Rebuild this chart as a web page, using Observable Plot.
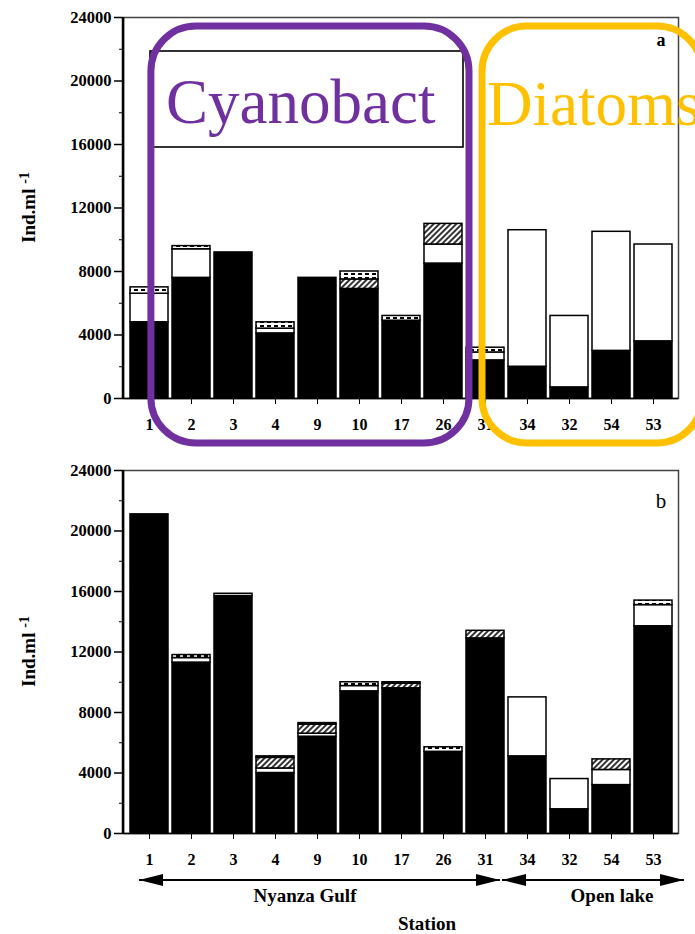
<!DOCTYPE html>
<html>
<head>
<meta charset="utf-8">
<script src="https://cdn.jsdelivr.net/npm/d3@7"></script>
<script src="https://cdn.jsdelivr.net/npm/@observablehq/plot@0.6"></script>
<style>
  html, body { margin: 0; padding: 0; background: #fff; }
  #chart { position: relative; width: 695px; height: 934px; overflow: hidden; }
  #chart > svg { display: block; }
</style>
</head>
<body>
<div id="chart">
  <svg width="0" height="0" style="position:absolute;left:0;top:0">
    <defs>
      <pattern id="hatchDiag" patternUnits="userSpaceOnUse" width="4" height="4" patternTransform="rotate(45)">
        <rect width="4" height="4" fill="white"/>
        <rect width="2" height="4" fill="#333"/>
      </pattern>
      <pattern id="hatchDash" patternUnits="userSpaceOnUse" width="7" height="4">
        <rect width="7" height="4" fill="white"/>
        <rect x="1" y="1" width="4" height="2" fill="black"/>
      </pattern>
    </defs>
  </svg>
</div>
<script>
// ---- data ----
const stations = ["1", "2", "3", "4", "9", "10", "17", "26", "31", "34", "32", "54", "53"];
const groups = ["Cyanobacteria", "Diatoms", "Chlorophytes", "Others"];

// panel a
const cyanoA   = [4800, 7600, 9200, 4100, 7600, 6900, 4900, 8500, 2400, 2000,  700, 3000, 3600];
const diatomA  = [1800, 1800,    0,  300,    0,    0,    0, 1200,  500, 8600, 4500, 7500, 6100];
const chloroA  = [   0,    0,    0,    0,    0,  600,    0, 1300,    0,    0,    0,    0,    0];
const otherA   = [ 400,  200,    0,  400,    0,  500,  300,    0,  300,    0,    0,    0,    0];

// panel b
const cyanoB   = [21100, 11300, 15700, 4000, 6400, 9400, 9600, 5400, 12900, 5100, 1600, 3200, 13700];
const diatomB  = [    0,   300,     0,  300,  200,  350,    0,    0,     0, 3900, 2000, 1000,  1400];
const chloroB  = [    0,     0,     0,  700,  600,    0,  300,    0,   500,    0,    0,  700,     0];
const otherB   = [    0,   200,   150,  100,  100,  250,  100,  300,     0,    0,    0,    0,   300];

const yTicks = [0, 4000, 8000, 12000, 16000, 20000, 24000];
const yMinor = [2000, 6000, 10000, 14000, 18000, 22000];
const groupFills = ["black", "white", "url(#hatchDiag)", "url(#hatchDash)"];

function toLong(series) {
  const rows = [];
  stations.forEach((s, i) => groups.forEach((g, j) => {
    const v = series[j][i];
    if (v > 0) rows.push({station: s, group: g, value: v});
  }));
  return rows;
}

const FONT = "Liberation Serif";

function yTitleMark(index, scales, values, d) {
  const cy = (d.marginTop + d.height - d.marginBottom) / 2;
  const t = d3.create("svg:text")
    .attr("transform", `translate(28,${cy}) rotate(-90)`)
    .attr("text-anchor", "middle")
    .attr("dy", "0.35em")
    .attr("font-family", FONT)
    .attr("font-weight", "bold")
    .attr("font-size", 19)
    .attr("fill", "black");
  t.append("tspan").text("Ind.ml ");
  t.append("tspan").attr("font-size", 14).attr("dy", -6).text("-1");
  return t.node();
}

function leftAxisLine(index, scales, values, d) {
  return d3.create("svg:line")
    .attr("x1", d.marginLeft).attr("x2", d.marginLeft)
    .attr("y1", d.marginTop).attr("y2", d.height - d.marginBottom + 1)
    .attr("stroke", "black").attr("stroke-width", 2.5).node();
}

function annotA(index, scales, values, d) {
  const x = scales.x;
  const bw = typeof x.bandwidth === "function" ? x.bandwidth() : 38;
  const g = d3.create("svg:g");
  const top = d.marginTop + 9, bottom = d.height - 7;
  g.append("rect")
    .attr("x", 150).attr("y", 51).attr("width", 313).attr("height", 96)
    .attr("fill", "white").attr("stroke", "black").attr("stroke-width", 1.6);
  g.append("text")
    .attr("x", 166).attr("y", 123).attr("text-anchor", "start")
    .attr("font-family", FONT).attr("font-size", 63).attr("fill", "#7030A0")
    .text("Cyanobact");
  const px1 = x("1") + bw * 0.55, px2 = x("31") + 3;
  g.append("rect")
    .attr("x", px1).attr("y", top).attr("width", px2 - px1).attr("height", bottom - top)
    .attr("rx", 45).attr("fill", "none").attr("stroke", "#7030A0").attr("stroke-width", 7);
  const ox1 = x("31") + 16, ox2 = x("53") + bw + 30;
  g.append("rect")
    .attr("x", ox1).attr("y", top).attr("width", ox2 - ox1).attr("height", bottom - top)
    .attr("rx", 45).attr("fill", "none").attr("stroke", "#FFC000").attr("stroke-width", 7);
  g.append("text")
    .attr("x", 487).attr("y", 125).attr("text-anchor", "start")
    .attr("font-family", FONT).attr("font-size", 63).attr("fill", "#FFC000")
    .text("Diatoms");
  g.append("text")
    .attr("x", 661).attr("y", 40).attr("dy", "0.35em").attr("text-anchor", "middle")
    .attr("font-family", FONT).attr("font-weight", "bold").attr("font-size", 18)
    .text("a");
  return g.node();
}

function annotB(index, scales, values, d) {
  const x = scales.x;
  const bw = typeof x.bandwidth === "function" ? x.bandwidth() : 38;
  const g = d3.create("svg:g");
  const base = d.height - d.marginBottom;
  const ya = base + 47;
  const a1 = x("1") + 9, a2 = x("34") - 8, b1 = a2 + 2, b2 = x("53") + bw + 12;
  const head = 24, hh = 6;
  g.append("line").attr("x1", a1).attr("x2", a2).attr("y1", ya).attr("y2", ya).attr("stroke", "black").attr("stroke-width", 2);
  g.append("line").attr("x1", b1).attr("x2", b2).attr("y1", ya).attr("y2", ya).attr("stroke", "black").attr("stroke-width", 2);
  const tri = (tip, dir) => `${tip},${ya} ${tip + dir * head},${ya - hh} ${tip + dir * head},${ya + hh}`;
  g.append("polygon").attr("points", tri(a1, 1)).attr("fill", "black");
  g.append("polygon").attr("points", tri(a2, -1)).attr("fill", "black");
  g.append("polygon").attr("points", tri(b1, 1)).attr("fill", "black");
  g.append("polygon").attr("points", tri(b2, -1)).attr("fill", "black");
  const lab = (tx, ty, s) => g.append("text")
    .attr("x", tx).attr("y", ty).attr("dy", "0.35em").attr("text-anchor", "middle")
    .attr("font-family", FONT).attr("font-weight", "bold").attr("font-size", 19)
    .attr("fill", "black").text(s);
  lab(305, base + 62, "Nyanza Gulf");
  lab(612, base + 62, "Open lake");
  lab(427, base + 90, "Station");
  g.append("text")
    .attr("x", 661).attr("y", 51).attr("dy", "0.35em").attr("text-anchor", "middle")
    .attr("font-family", FONT).attr("font-size", 21)
    .text("b");
  return g.node();
}

function panel(rows, height, m, annot) {
  return Plot.plot({
    width: 695,
    height,
    marginTop: m.top, marginRight: m.right, marginBottom: m.bottom, marginLeft: m.left,
    style: {fontFamily: FONT, background: "transparent", color: "black"},
    x: {domain: stations, paddingInner: 0.1, paddingOuter: 0.05},
    y: {domain: [0, 24000]},
    color: {domain: groups, range: groupFills},
    marks: [
      Plot.frame({stroke: "#444", strokeWidth: 1.5}),
      Plot.barY(rows, {x: "station", y: "value", fill: "group", order: groups, stroke: "black", strokeWidth: 1.5}),
      Plot.ruleY([0], {stroke: "black", strokeWidth: 1.5}),
      leftAxisLine,
      Plot.axisY({ticks: yTicks, tickSize: 9, tickPadding: 3, tickFormat: d => String(d), fontSize: 16.5, fontWeight: "bold", label: null, strokeWidth: 1.5}),
      Plot.axisY({ticks: yMinor, tickSize: 4, tickFormat: () => "", label: null}),
      Plot.axisX({tickSize: 6, tickPadding: 14, fontSize: 16, fontWeight: "bold", label: null}),
      yTitleMark,
      annot
    ]
  });
}

const chart = document.getElementById("chart");
const svgA = panel(toLong([cyanoA, diatomA, chloroA, otherA]), 450, {top: 17, right: 17, bottom: 52, left: 123}, annotA);
const svgB = panel(toLong([cyanoB, diatomB, chloroB, otherB]), 484, {top: 20, right: 17, bottom: 101, left: 123}, annotB);
chart.appendChild(svgA);
chart.appendChild(svgB);
</script>
</body>
</html>
